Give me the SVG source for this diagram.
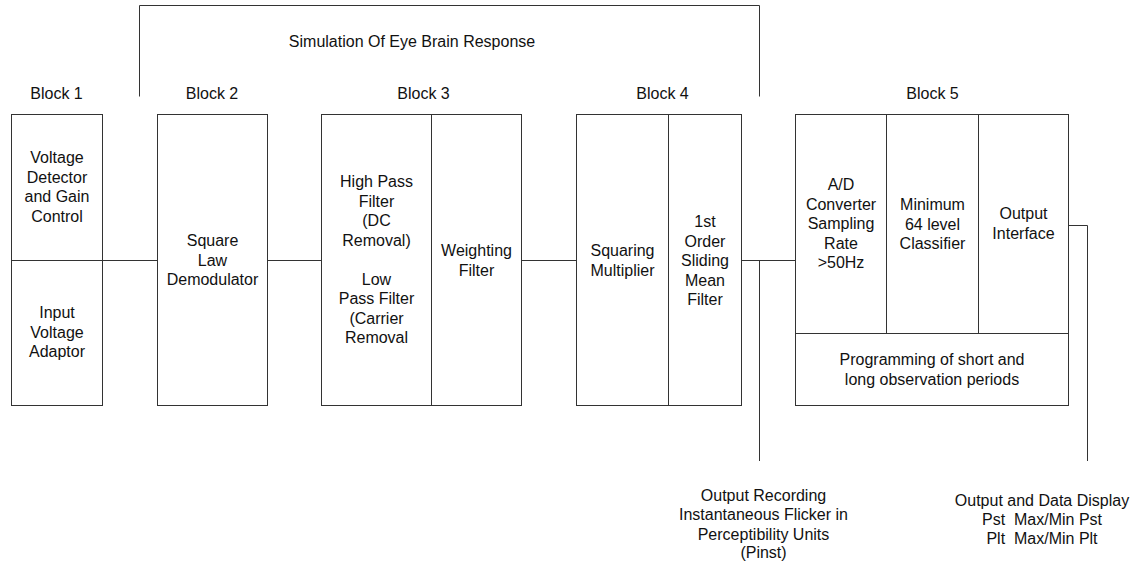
<svg xmlns="http://www.w3.org/2000/svg" width="1139" height="562" viewBox="0 0 1139 562">
<style>
.box{fill:#fff;stroke:#333;stroke-width:1}
.ln{fill:none;stroke:#333;stroke-width:1}
text{font-family:"Liberation Sans",Arial,sans-serif;font-size:16px;fill:#111;text-anchor:middle}
</style>
<rect width="1139" height="562" fill="#fff"/>
<g id="connectors">
<polyline class="ln" points="139.5,96.5 139.5,5.5 759.5,5.5 759.5,96.5"/>
<line class="ln" x1="102.5" y1="260.5" x2="157.5" y2="260.5"/>
<line class="ln" x1="267.5" y1="260.5" x2="321.5" y2="260.5"/>
<line class="ln" x1="521.5" y1="260.5" x2="576.5" y2="260.5"/>
<line class="ln" x1="741.5" y1="260.5" x2="795.5" y2="260.5"/>
<line class="ln" x1="759.5" y1="260.5" x2="759.5" y2="461"/>
<polyline class="ln" points="1068.5,225.5 1087.5,225.5 1087.5,461"/>
</g>
<g id="titles">
<text x="412" y="47">Simulation Of Eye Brain Response</text>
<text x="56.5" y="99">Block 1</text>
<text x="212" y="99">Block 2</text>
<text x="423.5" y="99">Block 3</text>
<text x="662.5" y="99">Block 4</text>
<text x="932.5" y="99">Block 5</text>
</g>
<g id="block1">
<rect class="box" x="11.5" y="114.5" width="91" height="291"/>
<line class="ln" x1="11.5" y1="260.5" x2="102.5" y2="260.5"/>
<text x="57" y="163">Voltage</text>
<text x="57" y="182.5">Detector</text>
<text x="57" y="202">and Gain</text>
<text x="57" y="221.5">Control</text>
<text x="57" y="318">Input</text>
<text x="57" y="337.5">Voltage</text>
<text x="57" y="357">Adaptor</text>
</g>
<g id="block2">
<rect class="box" x="157.5" y="114.5" width="110" height="291"/>
<text x="212.5" y="246">Square</text>
<text x="212.5" y="265.5">Law</text>
<text x="212.5" y="285">Demodulator</text>
</g>
<g id="block3">
<rect class="box" x="321.5" y="114.5" width="200" height="291"/>
<line class="ln" x1="431.5" y1="114.5" x2="431.5" y2="405.5"/>
<text x="376.5" y="187">High Pass</text>
<text x="376.5" y="206.5">Filter</text>
<text x="376.5" y="226">(DC</text>
<text x="376.5" y="245.5">Removal)</text>
<text x="376.5" y="284.5">Low</text>
<text x="376.5" y="304">Pass Filter</text>
<text x="376.5" y="323.5">(Carrier</text>
<text x="376.5" y="343">Removal</text>
<text x="476.5" y="256">Weighting</text>
<text x="476.5" y="275.5">Filter</text>
</g>
<g id="block4">
<rect class="box" x="576.5" y="114.5" width="165" height="291"/>
<line class="ln" x1="668.5" y1="114.5" x2="668.5" y2="405.5"/>
<text x="622.5" y="256">Squaring</text>
<text x="622.5" y="275.5">Multiplier</text>
<text x="705" y="227">1st</text>
<text x="705" y="246.5">Order</text>
<text x="705" y="266">Sliding</text>
<text x="705" y="285.5">Mean</text>
<text x="705" y="305">Filter</text>
</g>
<g id="block5">
<rect class="box" x="795.5" y="114.5" width="273" height="291"/>
<line class="ln" x1="886.5" y1="114.5" x2="886.5" y2="333.5"/>
<line class="ln" x1="978.5" y1="114.5" x2="978.5" y2="333.5"/>
<line class="ln" x1="795.5" y1="333.5" x2="1068.5" y2="333.5"/>
<text x="841" y="190">A/D</text>
<text x="841" y="209.5">Converter</text>
<text x="841" y="229">Sampling</text>
<text x="841" y="248.5">Rate</text>
<text x="841" y="268">&gt;50Hz</text>
<text x="932.5" y="210">Minimum</text>
<text x="932.5" y="229.5">64 level</text>
<text x="932.5" y="249">Classifier</text>
<text x="1023.5" y="219">Output</text>
<text x="1023.5" y="238.5">Interface</text>
<text x="932" y="365">Programming of short and</text>
<text x="932" y="384.5">long observation periods</text>
</g>
<g id="output-recording">
<text x="763.5" y="501">Output Recording</text>
<text x="763.5" y="520">Instantaneous Flicker in</text>
<text x="763.5" y="539.5">Perceptibility Units</text>
<text x="763.5" y="558">(Pinst)</text>
</g>
<g id="output-display">
<text x="1042" y="506">Output and Data Display</text>
<text x="1042" y="525" xml:space="preserve">Pst  Max/Min Pst</text>
<text x="1042" y="544" xml:space="preserve">Plt  Max/Min Plt</text>
</g>
</svg>
